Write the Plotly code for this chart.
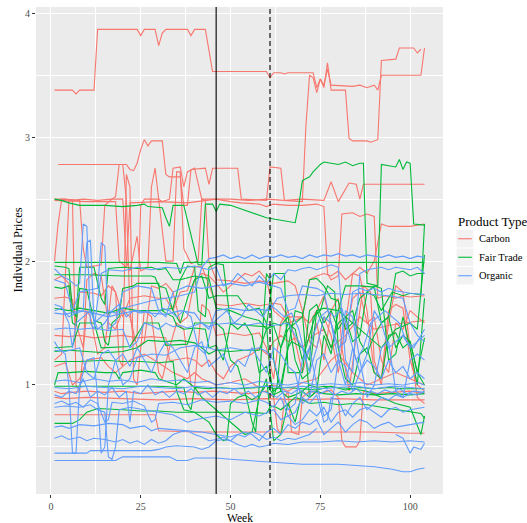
import plotly.graph_objects as go

# ---------------- data: (week, price) vertices ----------------
carbon_01 = [[1,3.38],[6,3.38],[7,3.35],[8,3.38],[12,3.38],[13,3.87],[24,3.87],[25,3.82],[26,3.87],[29,3.87],[30,3.74],[31,3.84],[32,3.87],[38,3.87],[39,3.82],[40,3.87],[43,3.87],[45,3.53],[60,3.53],[61,3.48],[62,3.52],[64,3.52],[65,3.51],[66,3.52],[73,3.52],[74,3.40],[75,3.47],[76,3.42],[77,3.55],[78,3.42],[84,3.41],[86,3.42],[88,3.40],[90,3.42],[91,3.38],[92,3.5],[103,3.5],[104,3.72]]
carbon_02 = [[1,2.5],[4,2.5],[6,2.49],[9,2.5],[13,2.49],[17,2.5],[18,2.52],[19,2.78],[21,2.78],[22,2.74],[23,2.73],[24,2.79],[25,2.9],[26,2.98],[27,2.93],[28,2.97],[31,2.97],[32,2.7],[33,2.68],[36,2.68],[37,2.45],[38,2.45],[39,2.74],[43,2.75],[44,2.62],[45,2.75],[52,2.75],[53,2.5],[60,2.49],[61,2.76],[64,2.75],[65,2.49],[70,2.48],[71,3.1],[72,3.5],[73,3.48],[74,3.36],[75,3.47],[76,3.4],[77,3.6],[78,3.38],[82,3.38],[83,2.99],[84,2.97],[88,2.97],[89,2.96],[91,2.98],[92,3.62],[96,3.63],[97,3.72],[101,3.72],[102,3.68],[103,3.71]]
carbon_03 = [[2,2.78],[10,2.78],[20,2.78],[21,2.5],[22,1.6],[23,1.35],[24,1.4],[25,2.45],[26,2.5],[30,2.5],[31,2.48],[33,2.5],[34,2.75],[36,2.76],[37,2.6],[38,2.72],[40,2.75],[42,2.5],[46,2.5],[50,2.48],[53,2.47],[58,2.46],[60,2.44],[62,2.46],[66,2.45],[70,2.45],[74,2.46],[76,2.44],[77,1.9],[78,1.85],[80,1.88],[81,2.38],[84,2.39],[86,2.36],[88,2.38],[90,2.36],[91,1.7],[93,1.72],[96,1.7],[98,1.72],[100,1.71],[104,1.72]]
carbon_04 = [[1,2.0],[2,2.3],[3,2.5],[8,2.49],[9,2.1],[10,1.95],[14,1.97],[15,2.45],[17,2.5],[20,2.5],[21,2.0],[22,1.92],[24,2.2],[25,1.92],[27,1.95],[28,2.6],[29,2.75],[30,2.5],[32,2.0],[34,2.0],[35,2.72],[36,2.72],[37,2.1],[39,1.98],[41,2.0],[42,2.5],[43,2.49],[44,2.0],[46,1.85],[50,1.84],[54,1.82],[58,1.84],[62,1.82],[66,1.84],[68,1.8],[70,1.6],[72,1.35],[74,1.3],[76,1.55],[78,1.4],[80,1.1],[82,1.5],[84,1.9],[86,1.95],[88,1.9],[90,2.0],[92,2.3],[94,2.28],[100,2.28],[104,2.3]]
carbon_05 = [[1,1.7],[4,1.71],[6,1.69],[7,1.5],[8,1.75],[12,1.74],[14,1.72],[16,1.8],[18,1.75],[20,1.55],[22,1.7],[26,1.72],[30,1.7],[32,1.7],[34,1.6],[36,1.75],[38,1.76],[40,1.95],[42,1.96],[44,1.8],[46,1.65],[50,1.64],[54,1.66],[58,1.64],[62,1.66],[64,1.65],[66,1.55],[70,1.55],[72,1.5],[74,1.6],[76,1.72],[78,1.5],[80,1.3],[82,1.35],[84,1.7],[86,1.75],[88,1.5],[90,1.55],[92,1.2],[94,1.1],[96,1.5],[98,1.45],[100,1.6],[102,1.55],[104,1.5]]
carbon_06 = [[1,1.4],[5,1.39],[8,1.4],[12,1.38],[16,1.39],[20,1.4],[24,1.38],[28,1.39],[32,1.38],[33,1.2],[34,1.2],[38,1.22],[40,1.2],[42,1.15],[44,1.2],[46,1.1],[48,1.05],[50,1.15],[52,1.2],[56,1.25],[58,1.3],[60,1.25],[62,1.35],[64,1.4],[66,1.35],[68,1.38],[70,1.3],[72,1.38],[76,1.45],[78,1.3],[80,1.35],[82,1.4],[86,1.55],[88,1.5],[90,1.45],[94,1.48],[98,1.5],[104,1.52]]
carbon_07 = [[1,0.9],[4,0.89],[10,0.9],[20,0.89],[30,0.88],[40,0.89],[50,0.88],[60,0.89],[70,0.88],[80,0.89],[90,0.88],[104,0.88]]
carbon_08 = [[1,0.95],[3,0.93],[6,0.94],[10,0.95],[15,0.94],[20,0.95],[25,0.93],[30,0.94],[35,0.95],[40,0.94],[45,0.95],[50,0.94],[55,0.93],[60,0.95],[62,0.9],[63,0.65],[64,0.6],[65,0.9],[66,0.95],[67,0.62],[69,0.6],[70,0.9],[72,0.95],[75,0.93],[78,0.96],[80,0.9],[81,0.55],[82,0.5],[85,0.5],[86,0.55],[87,0.95],[90,0.93],[95,0.94],[100,0.95],[104,0.93]]
carbon_09 = [[1,0.76],[10,0.76],[20,0.76],[29,0.76],[30,0.63],[40,0.62],[50,0.62],[60,0.62],[70,0.62],[80,0.62],[90,0.62],[100,0.61],[104,0.61]]
carbon_10 = [[1,1.2],[3,1.25],[5,2.48],[6,2.5],[7,1.0],[8,0.95],[10,1.6],[11,1.55],[13,1.25],[15,1.3],[17,1.8],[18,1.75],[19,1.2],[20,1.15],[21,2.7],[22,2.6],[23,1.05],[24,1.0],[26,1.6],[28,1.55],[30,1.1],[31,1.05],[33,1.3],[35,1.5],[37,1.45],[39,1.0],[40,0.98],[42,1.65],[44,1.6],[46,1.4],[50,1.42],[54,1.4],[58,1.42],[60,1.3],[62,1.05],[64,1.5],[66,1.6],[68,1.35],[70,1.1],[72,1.3],[74,1.5],[76,1.2],[78,1.6],[80,1.7],[81,1.3],[83,0.95],[85,1.4],[87,1.8],[89,1.75],[90,1.2],[92,1.0],[94,1.5],[96,1.8],[98,1.75],[100,1.3],[102,0.9],[104,0.85]]
carbon_11 = [[1,1.85],[3,1.88],[5,1.82],[7,1.5],[9,1.3],[10,1.85],[12,1.9],[14,1.88],[16,1.5],[18,1.45],[20,1.6],[22,1.55],[24,1.3],[26,1.35],[28,1.8],[30,1.78],[32,1.82],[34,1.75],[36,1.5],[38,1.55],[40,1.85],[42,1.9],[44,1.88],[46,1.82],[48,1.75],[50,1.8],[52,1.85],[54,1.9],[56,1.88],[58,1.92],[60,1.85],[62,1.6],[64,1.55],[66,1.5],[68,1.52],[70,1.55],[72,1.85],[74,1.88],[76,1.9],[78,1.88],[80,1.92],[82,1.85],[84,1.9],[86,1.88],[88,1.6],[90,1.1],[92,1.05],[94,1.6],[96,1.65],[98,1.62],[100,1.2],[102,1.0],[104,0.95]]
carbon_12 = [[1,1.15],[4,1.18],[6,1.0],[8,1.05],[10,1.2],[14,1.22],[16,1.15],[18,1.1],[22,1.2],[26,1.25],[30,1.18],[34,1.1],[38,1.05],[40,1.1],[42,1.05],[46,1.0],[50,1.02],[54,1.05],[58,0.98],[62,1.0],[66,0.95],[70,1.02],[74,1.05],[78,1.2],[80,1.25],[84,1.1],[88,1.0],[92,1.05],[96,1.1],[100,1.05],[104,1.0]]
carbon_13 = [[1,2.49],[10,2.48],[18,2.48],[19,2.0],[21,1.95],[22,2.47],[30,2.48],[38,2.47],[46,2.5],[50,2.5],[55,2.49],[60,2.5],[65,2.49],[70,2.5],[76,2.49],[78,2.64],[80,2.48],[83,2.63],[85,2.62],[86,2.5],[87,2.62],[95,2.62],[104,2.62]]

fair_01 = [[1,2.5],[3,2.49],[5,2.47],[8,2.45],[15,2.45],[20,2.44],[24,2.45],[26,2.46],[27,2.44],[31,2.43],[32,2.35],[33,2.28],[34,2.45],[37,2.45],[41,1.97],[42,1.97],[43,2.46],[45,2.46],[46,2.4],[47,2.46],[50,2.45],[55,2.4],[60,2.35],[64,2.33],[68,2.31],[69,2.45],[70,2.65],[72,2.68],[73,2.72],[75,2.78],[76,2.8],[78,2.79],[80,2.78],[82,2.8],[84,2.77],[86,2.79],[87,2.79],[88,1.82],[91,1.8],[92,2.78],[94,2.77],[96,2.76],[97,2.82],[98,2.74],[99,2.8],[100,2.79],[101,2.3],[104,2.29]]
fair_02 = [[1,1.99],[10,1.99],[20,1.99],[30,1.99],[35,1.98],[36,1.9],[37,1.99],[45,1.99],[50,1.99],[60,1.99],[70,1.99],[80,1.99],[90,1.99],[100,1.99],[104,1.99]]
fair_03 = [[1,1.96],[4,1.95],[5,1.94],[6,1.6],[7,1.55],[8,1.95],[12,1.95],[14,1.7],[15,1.65],[16,1.94],[20,1.95],[24,1.94],[28,1.95],[30,1.93],[32,1.94],[34,1.85],[36,1.85],[38,1.96],[40,1.95],[41,1.6],[43,1.55],[44,1.95],[46,1.98],[48,1.97],[50,1.5],[55,1.48],[60,1.47],[62,1.9],[65,1.9],[66,1.1],[70,1.1],[72,1.6],[74,1.65],[76,1.5],[78,1.6],[80,1.45],[82,1.55],[84,1.5],[88,1.4],[92,1.3],[96,1.45],[100,1.5],[102,1.45],[104,2.05]]
fair_04 = [[1,1.89],[10,1.89],[20,1.88],[28,1.88],[29,1.87],[30,1.8],[32,1.78],[34,1.6],[36,1.5],[38,1.7],[40,1.85],[42,1.88],[44,1.7],[46,1.72],[52,1.72],[55,1.6],[58,1.62],[60,1.5],[61,1.1],[62,0.9],[63,1.0],[64,1.3],[66,1.45],[68,1.5],[70,1.55],[72,1.85],[74,1.86],[76,1.8],[78,1.7],[80,1.68],[82,1.45],[84,1.5],[86,1.7],[88,1.75],[90,1.72],[92,1.6],[95,1.75],[98,1.72],[100,1.74],[103,1.73],[104,2.3]]
fair_05 = [[1,1.79],[3,1.78],[5,1.8],[6,1.5],[7,1.48],[8,1.78],[10,1.77],[12,1.52],[14,1.5],[15,1.35],[16,1.32],[17,1.5],[19,1.55],[20,1.78],[23,1.8],[24,1.82],[30,1.82],[31,1.6],[32,1.58],[34,1.55],[35,1.48],[37,1.45],[40,1.46],[43,1.45],[44,1.3],[46,1.32],[48,1.2],[50,1.5],[52,1.45],[54,1.5],[56,1.4],[58,1.1],[60,1.15],[62,0.95],[64,1.0],[66,1.3],[67,1.35],[70,1.3],[72,1.2],[73,1.55],[75,1.6],[77,1.8],[79,1.75],[80,1.3],[82,1.05],[84,1.0],[86,1.25],[88,1.3],[90,1.1],[92,1.05],[94,1.4],[96,1.42],[98,1.3],[100,1.35],[102,1.1],[104,1.0]]
fair_06 = [[1,1.27],[5,1.28],[10,1.27],[15,1.26],[20,1.27],[24,1.3],[27,1.36],[32,1.35],[36,1.36],[40,1.34],[42,1.3],[44,1.25],[46,1.28],[50,1.27],[54,1.28],[58,1.28],[60,1.45],[62,1.48],[64,1.3],[66,1.5],[68,1.45],[70,1.2],[72,1.4],[74,1.6],[76,1.45],[78,1.3],[80,1.5],[82,1.55],[84,1.6],[86,1.35],[88,1.25],[90,1.4],[92,1.5],[94,1.55],[96,1.3],[98,1.4],[100,1.35],[102,1.1],[104,1.38]]
fair_07 = [[1,1.19],[8,1.19],[15,1.2],[20,1.19],[25,1.19],[30,1.18],[34,1.19],[35,0.95],[37,0.8],[40,0.78],[44,0.7],[46,0.6],[48,0.55],[49,0.56],[50,0.85],[52,0.9],[54,0.92],[56,0.88],[58,0.92],[60,1.0],[62,0.92],[64,0.95],[66,0.9],[68,0.92],[70,0.95],[72,0.9],[74,0.95],[76,0.93],[80,0.92],[85,0.93],[90,0.92],[95,0.93],[100,0.92],[104,0.93]]
fair_08 = [[1,1.0],[2,1.1],[5,1.1],[10,1.11],[15,1.1],[18,1.1],[19,1.05],[20,1.1],[25,1.12],[29,1.1],[30,1.05],[33,1.02],[35,1.0],[37,1.05],[40,0.98],[42,0.9],[44,0.85],[46,0.8],[48,0.75],[50,0.7],[52,0.65],[54,0.6],[56,0.62],[58,0.9],[60,1.05],[61,0.8],[62,0.55],[64,0.6],[66,0.85],[68,0.7],[70,0.95],[72,1.0],[74,0.98],[76,0.99],[80,0.98],[84,0.97],[88,0.95],[92,0.9],[96,0.85],[100,0.82],[103,0.6],[104,0.75]]
fair_09 = [[1,0.99],[10,0.99],[20,0.99],[30,0.99],[37,0.98],[38,0.85],[39,0.8],[40,0.98],[44,0.97],[46,0.98],[52,0.97],[58,0.98],[60,0.99],[62,0.97],[66,0.98],[70,0.97],[74,0.96],[78,0.99],[82,0.96],[86,0.98],[90,0.97],[94,0.98],[98,0.97],[104,0.97]]
fair_10 = [[1,0.69],[6,0.69],[8,0.72],[10,0.78],[12,0.8],[13,0.81],[20,0.8],[25,0.79],[30,0.79],[35,0.78],[40,0.78],[46,0.78],[50,0.78],[55,0.78],[60,0.77],[61,0.82],[62,0.83],[64,0.8],[66,0.85],[68,0.9],[70,0.88],[72,0.85],[76,0.86],[80,0.84],[84,0.85],[88,0.84],[92,0.82],[96,0.8],[100,0.78],[103,0.77],[104,0.73]]
fair_11 = [[1,1.3],[6,1.31],[8,1.5],[12,1.5],[14,1.3],[22,1.31],[26,1.5],[30,1.5],[32,1.32],[38,1.33],[40,1.5],[46,1.5],[48,1.45],[50,1.2],[52,1.15],[54,0.95],[56,0.7],[57,0.62],[58,1.0],[60,1.9],[61,1.85],[62,1.2],[64,0.95],[66,1.3],[68,1.6],[70,1.58],[72,0.9],[74,0.95],[76,1.4],[78,1.25],[80,1.6],[82,1.55],[84,1.35],[86,1.4],[88,1.75],[90,1.8],[92,1.78],[94,1.2],[96,1.25],[98,1.55],[100,1.3],[102,1.0],[104,1.7]]
fair_12 = [[1,1.62],[5,1.6],[8,1.62],[12,1.6],[16,1.58],[20,1.62],[24,1.6],[30,1.6],[34,1.62],[36,1.85],[40,1.88],[44,1.86],[46,1.62],[50,1.6],[54,1.55],[58,1.52],[60,1.45],[62,1.5],[64,1.48],[66,1.55],[68,1.2],[70,1.05],[72,1.1],[74,1.6],[76,1.62],[80,1.6],[82,1.8],[86,1.8],[90,1.79],[92,1.5],[94,1.55],[96,1.9],[98,1.92],[100,1.88],[102,1.9],[104,1.9]]

organic_01 = [[1,1.6],[3,1.62],[5,1.55],[7,1.58],[9,1.6],[10,2.15],[11,2.17],[12,1.5],[14,1.55],[16,1.6],[18,1.58],[20,1.62],[24,1.65],[28,1.68],[32,1.7],[36,1.72],[40,1.75],[42,1.95],[44,2.02],[46,2.03],[48,2.05],[50,2.02],[52,2.04],[54,2.02],[56,2.05],[58,2.02],[60,2.04],[62,2.03],[64,2.05],[66,2.03],[68,2.04],[70,2.02],[72,2.05],[74,2.03],[76,2.05],[78,2.04],[80,2.06],[82,2.04],[84,2.05],[86,2.03],[88,2.05],[90,2.04],[92,2.03],[94,2.05],[96,2.03],[98,2.04],[100,2.02],[102,2.04],[104,2.03]]
organic_02 = [[1,1.94],[3,1.88],[5,1.85],[7,1.8],[8,1.82],[9,2.3],[10,2.28],[11,1.5],[12,1.45],[14,1.9],[16,1.93],[20,1.92],[24,1.95],[28,1.93],[32,1.95],[36,1.94],[40,1.96],[44,1.93],[46,1.95],[48,1.8],[50,1.82],[52,1.9],[54,1.85],[56,1.8],[58,1.88],[60,1.82],[62,1.9],[64,1.85],[66,1.93],[68,1.92],[70,1.94],[72,1.95],[74,1.93],[76,1.95],[78,1.97],[80,1.95],[82,1.2],[84,1.1],[86,1.9],[88,1.93],[90,1.94],[92,1.95],[94,1.93],[96,1.95],[98,1.94],[100,1.93],[102,1.95],[104,1.9]]
organic_03 = [[1,1.85],[4,1.82],[6,1.6],[8,1.75],[13,1.78],[14,2.15],[15,2.12],[16,1.45],[18,1.5],[20,1.75],[24,1.8],[28,1.78],[30,1.6],[32,1.55],[34,1.75],[38,1.8],[42,1.78],[46,1.8],[50,1.82],[54,1.8],[58,1.83],[62,1.8],[64,1.78],[66,1.6],[68,1.62],[70,1.8],[74,1.78],[76,1.75],[78,1.5],[80,1.3],[82,1.35],[84,1.75],[86,1.78],[88,1.76],[90,1.78],[92,1.75],[94,1.78],[96,1.76],[98,1.75],[100,1.74],[104,1.73]]
organic_04 = [[1,1.58],[4,1.57],[8,1.6],[12,1.58],[16,1.55],[20,1.58],[24,1.6],[28,1.58],[32,1.57],[36,1.6],[40,1.58],[42,1.5],[44,1.45],[46,1.6],[50,1.62],[54,1.6],[58,1.61],[61,1.6],[63,1.7],[66,1.72],[70,1.73],[74,1.72],[78,1.74],[82,1.73],[86,1.74],[90,1.73],[94,1.72],[98,1.7],[100,1.5],[102,1.4],[104,1.35]]
organic_05 = [[1,1.45],[4,1.46],[8,1.45],[12,1.46],[16,1.44],[20,1.45],[22,1.3],[24,1.35],[26,1.5],[28,1.48],[30,1.45],[32,1.5],[34,1.47],[36,1.48],[38,1.46],[40,1.48],[42,1.5],[44,1.47],[46,1.49],[50,1.5],[54,1.48],[58,1.5],[62,1.48],[66,1.5],[70,1.3],[72,1.1],[74,1.3],[76,1.55],[78,1.5],[80,1.2],[82,1.0],[84,1.3],[86,1.1],[88,1.25],[90,1.6],[92,1.5],[94,1.3],[96,1.35],[98,1.4],[100,1.3],[102,1.35],[104,1.4]]
organic_06 = [[1,1.35],[2,1.3],[4,1.25],[5,1.0],[6,0.45],[7,0.45],[8,1.0],[10,1.2],[12,1.22],[13,0.9],[14,0.45],[15,0.5],[16,1.0],[18,1.2],[20,1.25],[22,1.15],[24,1.3],[26,1.2],[28,1.1],[30,1.25],[32,1.35],[34,1.3],[36,1.2],[38,1.1],[40,1.3],[42,1.35],[44,1.15],[46,1.2],[48,1.25],[50,1.1],[52,1.2],[54,1.15],[56,1.3],[58,1.2],[60,1.1],[62,1.3],[64,1.25],[66,1.15],[68,1.1],[70,0.85],[72,0.9],[74,1.2],[76,1.25],[78,1.1],[80,1.2],[82,1.15],[84,0.95],[86,1.1],[88,1.2],[90,1.15],[92,1.05],[94,1.2],[96,1.1],[98,1.15],[100,1.05],[102,1.1],[104,1.05]]
organic_07 = [[1,1.28],[4,1.27],[8,1.3],[10,1.1],[12,1.05],[14,1.25],[16,1.28],[18,1.2],[20,1.0],[22,1.05],[24,1.22],[28,1.25],[32,1.24],[36,1.3],[40,1.32],[44,1.3],[46,1.28],[50,1.3],[54,1.28],[58,1.3],[60,1.27],[62,1.2],[64,1.0],[66,0.8],[68,0.85],[70,1.2],[72,1.3],[74,1.0],[76,0.75],[78,0.8],[80,1.2],[82,1.6],[84,1.55],[86,1.2],[88,0.9],[90,1.0],[92,1.3],[94,1.35],[96,0.95],[98,0.9],[100,1.2],[102,1.25],[104,1.2]]
organic_08 = [[1,0.98],[5,0.97],[10,0.99],[15,0.98],[20,0.97],[25,0.99],[30,0.98],[35,0.97],[40,0.99],[45,0.98],[50,0.97],[55,0.98],[60,0.99],[65,0.98],[70,0.99],[75,0.97],[80,0.98],[85,0.99],[90,0.97],[95,0.99],[100,0.98],[104,0.97]]
organic_09 = [[1,0.92],[3,0.9],[5,0.95],[7,0.93],[9,1.05],[11,0.9],[13,0.95],[15,0.92],[17,0.98],[19,0.9],[21,0.95],[22,0.7],[23,0.95],[25,0.93],[27,1.0],[29,0.92],[31,0.95],[33,0.9],[35,0.95],[37,0.93],[39,0.97],[41,0.92],[43,0.95],[45,0.9],[47,0.95],[49,0.93],[51,0.97],[53,0.92],[55,0.95],[57,0.9],[59,0.95],[61,0.93],[63,0.9],[65,0.95],[67,0.93],[69,0.97],[71,0.92],[73,0.95],[75,0.93],[77,0.96],[79,0.92],[81,0.95],[83,0.93],[85,0.97],[87,0.92],[89,0.95],[91,0.93],[93,0.96],[95,0.94],[97,0.97],[99,0.93],[101,0.95],[104,0.94]]
organic_10 = [[1,0.85],[3,0.87],[5,0.84],[7,0.86],[9,0.82],[11,0.88],[13,0.85],[15,0.7],[16,0.72],[17,0.86],[20,0.85],[23,0.87],[26,0.83],[28,0.7],[29,0.72],[30,0.85],[34,0.86],[38,0.84],[42,0.88],[46,0.86],[50,0.87],[54,0.85],[58,0.88],[60,0.86],[62,0.82],[64,0.9],[66,0.75],[68,0.78],[70,0.9],[72,0.85],[74,0.92],[76,0.7],[77,0.72],[78,0.9],[80,0.88],[82,0.75],[84,0.85],[86,0.9],[88,0.8],[90,0.85],[92,0.9],[94,0.88],[96,0.92],[98,0.9],[100,0.93],[102,0.92],[104,0.95]]
organic_11 = [[1,0.82],[4,0.83],[8,0.82],[11,0.84],[13,0.8],[15,0.78],[16,0.42],[17,0.4],[18,0.5],[19,0.8],[22,0.82],[26,0.8],[30,0.78],[34,0.76],[38,0.7],[40,0.72],[44,0.74],[46,0.75],[50,0.72],[54,0.78],[58,0.75],[62,0.8],[64,0.72],[66,0.75],[68,0.68],[70,0.72],[72,0.8],[74,0.75],[76,0.82],[78,0.7],[80,0.78],[82,0.8],[84,0.74],[86,0.8],[88,0.82],[90,0.78],[92,0.74],[94,0.8],[96,0.82],[98,0.78],[100,0.8],[104,0.82]]
organic_12 = [[1,0.66],[3,0.67],[5,0.65],[8,0.68],[12,0.67],[16,0.69],[20,0.68],[22,0.65],[24,0.66],[26,0.67],[28,0.63],[30,0.65],[34,0.64],[38,0.63],[42,0.62],[46,0.6],[50,0.58],[54,0.62],[56,0.6],[58,0.55],[60,0.62],[62,0.65],[64,0.6],[66,0.68],[68,0.65],[70,0.7],[72,0.68],[74,0.72],[76,0.6],[78,0.65],[80,0.7],[82,0.62],[84,0.68],[86,0.72],[88,0.7],[90,0.65],[92,0.68],[94,0.7],[96,0.66],[100,0.68],[104,0.7]]
organic_13 = [[1,0.57],[3,0.59],[5,0.56],[8,0.58],[10,0.55],[12,0.57],[15,0.56],[18,0.54],[20,0.56],[22,0.53],[24,0.55],[26,0.52],[28,0.56],[30,0.53],[32,0.55],[34,0.6],[36,0.62],[38,0.63],[40,0.6],[42,0.58],[44,0.55],[46,0.56],[48,0.58],[50,0.55],[52,0.6],[54,0.58],[56,0.62],[58,0.6],[60,0.56],[62,0.58],[64,0.55],[66,0.57],[68,0.56],[70,0.58],[72,0.6],[74,0.65]]
organic_14 = [[96,0.6],[98,0.57],[100,0.45],[101,0.5],[103,0.48],[104,0.53]]
organic_15 = [[1,0.45],[5,0.45],[10,0.45],[11,0.47],[20,0.47],[28,0.47],[30,0.48],[32,0.5],[35,0.51],[40,0.5],[42,0.48],[44,0.5],[46,0.55],[48,0.56],[50,0.55],[52,0.52],[54,0.5],[56,0.52],[58,0.5],[60,0.51],[62,0.53],[66,0.52],[70,0.54],[75,0.54],[80,0.55],[85,0.54],[90,0.55],[95,0.54],[100,0.55],[104,0.54]]
organic_16 = [[1,0.39],[5,0.39],[10,0.39],[15,0.39],[18,0.39],[20,0.42],[25,0.42],[30,0.42],[33,0.42],[35,0.39],[38,0.39],[40,0.41],[46,0.41],[50,0.4],[55,0.39],[60,0.38],[65,0.37],[70,0.36],[75,0.36],[80,0.36],[85,0.35],[90,0.34],[95,0.32],[98,0.3],[100,0.3],[102,0.32],[104,0.33]]
organic_17 = [[1,1.65],[3,1.63],[5,1.5],[6,1.3],[7,1.5],[9,1.55],[11,1.6],[13,1.45],[15,1.5],[17,1.6],[19,1.65],[21,1.55],[23,1.6],[25,1.58],[27,1.6],[29,1.55],[31,1.62],[33,1.6],[35,1.55],[37,1.6],[39,1.55],[41,1.3],[43,1.25],[45,1.5],[47,1.55],[49,1.6],[51,1.5],[53,1.55],[55,1.65],[57,1.6],[59,1.55],[61,1.65],[63,1.6],[65,1.55],[67,1.58],[69,1.45],[71,1.2],[73,1.4],[75,1.55],[77,1.6],[79,1.55],[81,1.62],[83,1.4],[85,1.2],[87,1.3],[89,1.5],[91,1.55],[93,1.6],[95,1.55],[97,1.5],[99,1.35],[101,1.3],[103,1.4],[104,1.45]]
organic_18 = [[1,1.03],[4,1.04],[8,1.02],[12,1.05],[16,1.03],[20,1.04],[24,1.02],[28,1.05],[32,1.03],[36,1.04],[40,1.02],[44,1.03],[46,1.0],[50,1.02],[54,1.0],[58,1.03],[62,1.01],[66,1.0],[70,1.02],[74,1.0],[78,1.01],[82,1.0],[86,1.02],[90,1.0],[94,1.01],[98,1.0],[102,1.02],[104,1.0]]

product_types = ["Carbon", "Fair Trade", "Organic"]
series_by_type = {
    "Carbon": [carbon_01, carbon_02, carbon_03, carbon_04, carbon_05, carbon_06, carbon_07,
               carbon_08, carbon_09, carbon_10, carbon_11, carbon_12, carbon_13],
    "Fair Trade": [fair_01, fair_02, fair_03, fair_04, fair_05, fair_06, fair_07, fair_08,
                   fair_09, fair_10, fair_11, fair_12],
    "Organic": [organic_01, organic_02, organic_03, organic_04, organic_05, organic_06,
                organic_07, organic_08, organic_09, organic_10, organic_11, organic_12,
                organic_13, organic_14, organic_15, organic_16, organic_17, organic_18],
}
event_weeks = [46, 61]           # solid, dashed
x_ticks = [0, 25, 50, 75, 100]
y_ticks = [1, 2, 3, 4]

# ---------------- styling ----------------
colors = {"Carbon": "#F8766D", "Fair Trade": "#00BA38", "Organic": "#619CFF"}
FONT = "Liberation Serif"
W, H = 527, 523
ML, MR, MT, MB = 36, 84, 7, 29
PW, PH = W - ML - MR, H - MT - MB

def px_x(p):  # pixel -> paper x
    return (p - ML) / PW

def px_y(p):  # pixel -> paper y
    return 1 - (p - MT) / PH

fig = go.Figure()
for ptype in product_types:
    for s in series_by_type[ptype]:
        fig.add_trace(go.Scatter(
            x=[pt[0] for pt in s], y=[pt[1] for pt in s], mode="lines",
            line=dict(color=colors[ptype], width=1.1), showlegend=False,
            hoverinfo="skip"))

fig.add_vline(x=event_weeks[0], line=dict(color="black", width=1.1))
fig.add_vline(x=event_weeks[1], line=dict(color="black", width=1.1, dash="5px,3px"))

axis_common = dict(
    showgrid=True, gridcolor="white", gridwidth=1.1, zeroline=False, showline=False,
    ticks="outside", ticklen=3, tickwidth=1, tickcolor="#333333", automargin=False,
    tickfont=dict(family=FONT, size=10, color="#4D4D4D"),
)
fig.update_xaxes(range=[-4.15, 109.15], tickvals=x_ticks, ticktext=[str(v) for v in x_ticks],
                 minor=dict(tickvals=[12.5, 37.5, 62.5, 87.5], showgrid=True,
                            gridcolor="white", gridwidth=0.55, ticks=""),
                 **axis_common)
fig.update_yaxes(range=[0.12, 4.051], tickvals=y_ticks, ticktext=[str(v) for v in y_ticks],
                 minor=dict(tickvals=[0.5, 1.5, 2.5, 3.5], showgrid=True,
                            gridcolor="white", gridwidth=0.55, ticks=""),
                 **axis_common)

# ---------------- axis titles and ggplot-style legend ----------------
annotations = [
    dict(text="Week", xref="paper", yref="paper", x=px_x(239.5), y=px_y(518),
         xanchor="center", yanchor="middle", showarrow=False, borderpad=0,
         font=dict(family=FONT, size=11.5, color="black")),
    dict(text="Individual Prices", xref="paper", yref="paper", x=px_x(17), y=px_y(250.5),
         xanchor="center", yanchor="middle", textangle=-90, showarrow=False,
         font=dict(family=FONT, size=12.5, color="black")),
    dict(text="Product Type", xref="paper", yref="paper", x=px_x(456), y=px_y(221.5),
         xanchor="left", yanchor="middle", showarrow=False,
         font=dict(family=FONT, size=13, color="black")),
]
shapes = []
row_h = 18.5
for i, ptype in enumerate(product_types):
    top = 229.5 + i * row_h
    shapes.append(dict(type="rect", xref="paper", yref="paper",
                       x0=px_x(456.5), x1=px_x(473.5), y0=px_y(top + 0.5), y1=px_y(top + row_h - 0.5),
                       fillcolor="#F2F2F2", line=dict(width=0), layer="above"))
    cy = top + row_h / 2
    shapes.append(dict(type="line", xref="paper", yref="paper",
                       x0=px_x(458.2), x1=px_x(471.8), y0=px_y(cy), y1=px_y(cy),
                       line=dict(color=colors[ptype], width=1.1), layer="above"))
    annotations.append(dict(text=ptype, xref="paper", yref="paper", x=px_x(476.5), y=px_y(cy),
                            xanchor="left", yanchor="middle", showarrow=False,
                            font=dict(family=FONT, size=10.5, color="black")))

fig.update_layout(
    width=W, height=H, margin=dict(l=ML, r=MR, t=MT, b=MB, pad=0),
    paper_bgcolor="white", plot_bgcolor="#EBEBEB",
    showlegend=False, shapes=fig.layout.shapes + tuple(shapes), annotations=annotations,
)

fig.write_html("out.html")
